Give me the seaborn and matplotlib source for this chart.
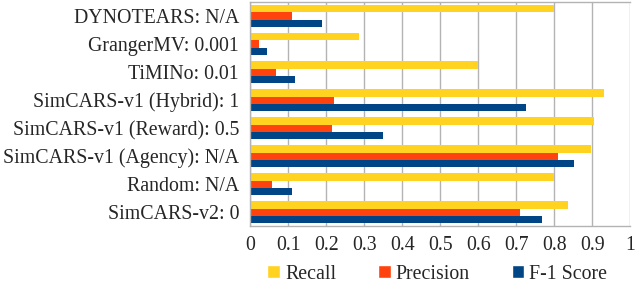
import pandas as pd
import numpy as np
import matplotlib.pyplot as plt
import seaborn as sns
from matplotlib.patches import Patch

methods = ["DYNOTEARS: N/A", "GrangerMV: 0.001", "TiMINo: 0.01",
           "SimCARS-v1 (Hybrid): 1", "SimCARS-v1 (Reward): 0.5",
           "SimCARS-v1 (Agency): N/A", "Random: N/A", "SimCARS-v2: 0"]
recall = [0.80, 0.287, 0.60, 0.931, 0.904, 0.896, 0.80, 0.836]
precision = [0.11, 0.024, 0.068, 0.221, 0.215, 0.811, 0.058, 0.711]
f1_score = [0.189, 0.044, 0.119, 0.726, 0.349, 0.852, 0.11, 0.768]

metrics = ["Recall", "Precision", "F-1 Score"]
colors = ["#FFD320", "#FF420E", "#004586"]


def main():
    sns.set_theme(style="white")
    plt.rcParams['font.family'] = ['Liberation Serif', 'DejaVu Serif']
    fs = 14.3

    df = pd.DataFrame({
        'method': methods * 3,
        'metric': sum([[m] * len(methods) for m in metrics], []),
        'value': recall + precision + f1_score,
    })

    fig, ax = plt.subplots(figsize=(6.43, 2.87), dpi=100)
    fig.subplots_adjust(left=0.389, right=0.98, top=0.993, bottom=0.212)

    sns.barplot(data=df, y='method', x='value', hue='metric', order=methods,
                hue_order=metrics, palette=colors, orient='h', width=0.76,
                saturation=1, linewidth=0, ax=ax, legend=False)

    ax.set_xlim(0, 1)
    ax.set_ylim(len(methods) - 0.5, -0.5)
    ax.set_xticks(np.arange(0, 1.01, 0.1))
    ax.set_xticklabels(['0', '0.1', '0.2', '0.3', '0.4', '0.5', '0.6',
                        '0.7', '0.8', '0.9', '1'], fontsize=fs)
    ax.set_yticks(range(len(methods)))
    ax.set_yticklabels(methods, fontsize=fs)
    ax.set_yticks(np.arange(-0.5, len(methods), 1), minor=True)
    ax.tick_params(axis='y', which='major', length=0, pad=8)
    ax.tick_params(axis='y', which='minor', length=4, color='#b3b3b3', width=1)
    ax.tick_params(axis='x', which='major', length=4, color='#b3b3b3', width=1, pad=3)
    ax.set_xlabel('')
    ax.set_ylabel('')

    ax.grid(axis='x', color='#b3b3b3', linewidth=1)
    ax.set_axisbelow(True)
    for s in ax.spines.values():
        s.set_color('#b3b3b3')
        s.set_linewidth(1)
    ax.spines['right'].set_visible(False)

    handles = [Patch(facecolor=c, label=m) for c, m in zip(colors, metrics)]
    fig.legend(handles=handles, loc='center', bbox_to_anchor=(0.68, 0.045),
               ncol=3, frameon=False, fontsize=fs, handlelength=0.65,
               handleheight=0.65, handletextpad=0.25, columnspacing=2.1)

    fig.savefig('out.png', dpi=100)


if __name__ == "__main__":
    main()
